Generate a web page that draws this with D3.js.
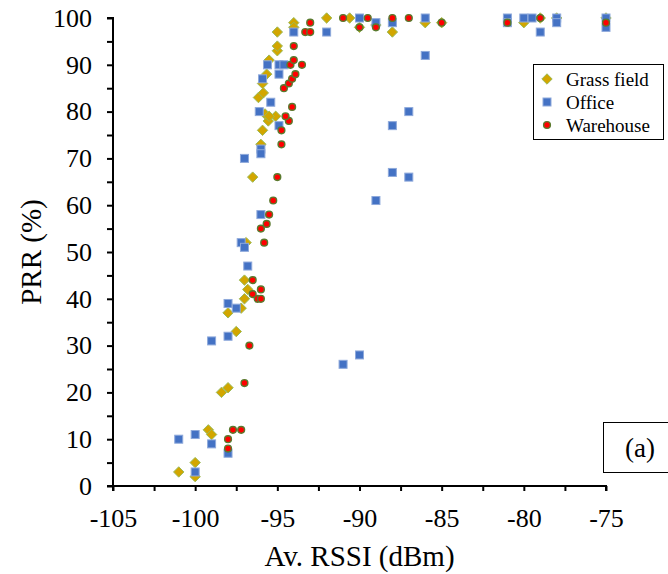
<!DOCTYPE html>
<html>
<head>
<meta charset="utf-8">
<script src="https://cdn.jsdelivr.net/npm/d3@7"></script>
<style>
  html, body { margin: 0; padding: 0; background: #fff; }
  svg { display: block; }
  text { font-family: "Liberation Serif", "Times New Roman", serif; fill: #000; }
</style>
</head>
<body>
<svg id="chart" width="668" height="574"></svg>
<script>
// ---- data (Av. RSSI in dBm, PRR in %) ----
const seriesNames = ["Grass field", "Office", "Warehouse"];

const grassField = [
  [-101, 3], [-100, 5], [-100, 2], [-99.2, 12], [-99, 11], [-98.4, 20], [-98, 21],
  [-98, 37], [-97.5, 33], [-97.2, 38], [-97, 40], [-96.8, 42], [-97, 44], [-96.9, 52],
  [-96.5, 66], [-96, 73], [-95.9, 76], [-95.55, 78], [-95.75, 79.5], [-95.1, 79],
  [-95.5, 79], [-96.15, 83], [-95.85, 84], [-95.9, 86], [-95.65, 88], [-95.5, 91],
  [-95, 93], [-95, 94], [-95, 97], [-94, 99], [-94, 98], [-92, 100], [-90.6, 100],
  [-90, 98], [-89, 98.5], [-88, 97], [-86, 99], [-85, 99], [-80, 99], [-79, 100],
  [-78, 100], [-75, 100]
];

const office = [
  [-101, 10], [-100, 11], [-100, 3], [-99, 9], [-99, 31], [-98, 7], [-98, 32],
  [-98, 39], [-97.5, 38], [-97.2, 52], [-97, 51], [-96.8, 47], [-97, 70], [-96, 58],
  [-96, 72], [-96, 71], [-96.1, 80], [-95.4, 82], [-94.9, 77], [-95.9, 87], [-94.9, 88],
  [-95.6, 90], [-94.9, 90], [-94.6, 90], [-94, 97], [-92, 97], [-91, 26], [-90, 28],
  [-90, 100], [-89, 99], [-89, 61], [-88, 99], [-88, 77], [-88, 67], [-87, 80],
  [-87, 66], [-86, 100], [-86, 92], [-81, 100], [-81, 99], [-80, 100], [-79.5, 100],
  [-79, 97], [-78, 100], [-78, 99], [-75, 100], [-75, 98]
];

const warehouse = [
  [-98, 10], [-98, 8], [-97.7, 12], [-97.2, 12], [-97, 22], [-96.7, 30], [-96.5, 44],
  [-96.5, 41], [-96.2, 40], [-96, 40], [-96, 42], [-95.8, 52], [-96, 55], [-95.65, 56],
  [-95.5, 58], [-95.25, 61], [-95, 66], [-94.75, 73], [-94.75, 76], [-94.3, 78],
  [-94.5, 79], [-94.1, 81], [-94.6, 85], [-94.3, 86], [-94.1, 87], [-93.9, 88],
  [-94.2, 90], [-93.5, 90], [-94, 91], [-94, 94], [-93.3, 97], [-93, 97], [-93, 99],
  [-91, 100], [-90, 98], [-89.5, 100], [-89, 98], [-88, 100], [-87, 100], [-85, 99],
  [-81, 99], [-79, 100], [-75, 99]
];

const xTicks = [-105, -102.5, -100, -97.5, -95, -92.5, -90, -87.5, -85, -82.5, -80, -77.5, -75];
const yTicks = [0, 5, 10, 15, 20, 25, 30, 35, 40, 45, 50, 55, 60, 65, 70, 75, 80, 85, 90, 95, 100];
const xTitle = "Av. RSSI (dBm)";
const yTitle = "PRR (%)";
const panelLabel = "(a)";

// ---- layout ----
const svg = d3.select("#chart");
const pLeft = 113, pRight = 606, pTop = 18, pBottom = 486;

const x = d3.scaleLinear().domain([-105, -75]).range([pLeft, pRight]);
const y = d3.scaleLinear().domain([0, 100]).range([pBottom, pTop]);

const font = '"Liberation Serif", "Times New Roman", serif';

// axes
const xAxis = d3.axisBottom(x).tickValues(xTicks).tickSize(5).tickPadding(18)
  .tickFormat(d => Number.isInteger(d / 5) ? String(d) : "");
const yAxis = d3.axisLeft(y).tickValues(yTicks).tickSize(6).tickPadding(15)
  .tickFormat(d => d % 10 === 0 ? String(d) : "");

const gx = svg.append("g").attr("transform", `translate(0,${pBottom})`).call(xAxis);
const gy = svg.append("g").attr("transform", `translate(${pLeft},0)`).call(yAxis);

[gx, gy].forEach(g => {
  g.selectAll("path.domain").attr("stroke", "#000").attr("stroke-width", 2);
  g.selectAll(".tick line").attr("stroke", "#000").attr("stroke-width", 2);
  g.selectAll(".tick text").attr("font-family", font).attr("font-size", 26).attr("fill", "#000");
});
gx.select("path.domain").attr("d", `M${pLeft},5V0H${pRight}V5`);
gy.select("path.domain").attr("d", `M-6,${pTop}H0V${pBottom}H-6`);

// axis titles
svg.append("text")
  .attr("x", (pLeft + pRight) / 2).attr("y", 566)
  .attr("text-anchor", "middle").attr("font-size", 29).attr("font-family", font)
  .text(xTitle);

svg.append("text")
  .attr("transform", `translate(41,${(pTop + pBottom) / 2}) rotate(-90)`)
  .attr("text-anchor", "middle").attr("font-size", 29).attr("font-family", font)
  .text(yTitle);

// markers
const diamondPath = r => `M0,${-r}L${r},0L0,${r}L${-r},0Z`;

function drawGrass(g, pts) {
  g.selectAll("path.grass").data(pts).join("path")
    .attr("class", "grass")
    .attr("transform", d => `translate(${x(d[0])},${y(d[1])})`)
    .attr("d", diamondPath(5.2))
    .attr("fill", "#D2A600").attr("stroke", "#9BBB59").attr("stroke-width", 1);
}
function drawOffice(g, pts) {
  g.selectAll("rect.office").data(pts).join("rect")
    .attr("class", "office")
    .attr("x", d => x(d[0]) - 4).attr("y", d => y(d[1]) - 4)
    .attr("width", 8).attr("height", 8)
    .attr("fill", "#4472C4").attr("stroke", "#8EA9DB").attr("stroke-width", 1);
}
function drawWarehouse(g, pts) {
  g.selectAll("circle.wh").data(pts).join("circle")
    .attr("class", "wh")
    .attr("cx", d => x(d[0])).attr("cy", d => y(d[1]))
    .attr("r", 3.4)
    .attr("fill", "#FF0000").attr("stroke", "#5A7A2E").attr("stroke-width", 1.4);
}

const plot = svg.append("g");
drawGrass(plot.append("g"), grassField);
drawOffice(plot.append("g"), office);
drawWarehouse(plot.append("g"), warehouse);

// legend
const lg = svg.append("g");
lg.append("rect").attr("x", 533.5).attr("y", 64.5).attr("width", 130).attr("height", 75)
  .attr("fill", "#fff").attr("stroke", "#000").attr("stroke-width", 1);
const rowY = [79, 102, 125];
const mx = 547;
drawGrass(lg.append("g"), [[x.invert(mx), y.invert(rowY[0])]]);
drawOffice(lg.append("g"), [[x.invert(mx), y.invert(rowY[1])]]);
drawWarehouse(lg.append("g"), [[x.invert(mx), y.invert(rowY[2])]]);
seriesNames.forEach((name, i) => {
  lg.append("text").attr("x", 566).attr("y", rowY[i] + 6.5)
    .attr("font-size", 19).attr("font-family", font).text(name);
});

// panel label box
svg.append("rect").attr("x", 603.5).attr("y", 422.5).attr("width", 70).attr("height", 50)
  .attr("fill", "#fff").attr("stroke", "#000").attr("stroke-width", 1);
svg.append("text").attr("x", 640).attr("y", 457).attr("text-anchor", "middle")
  .attr("font-size", 27).attr("font-family", font).text(panelLabel);
</script>
</body>
</html>
